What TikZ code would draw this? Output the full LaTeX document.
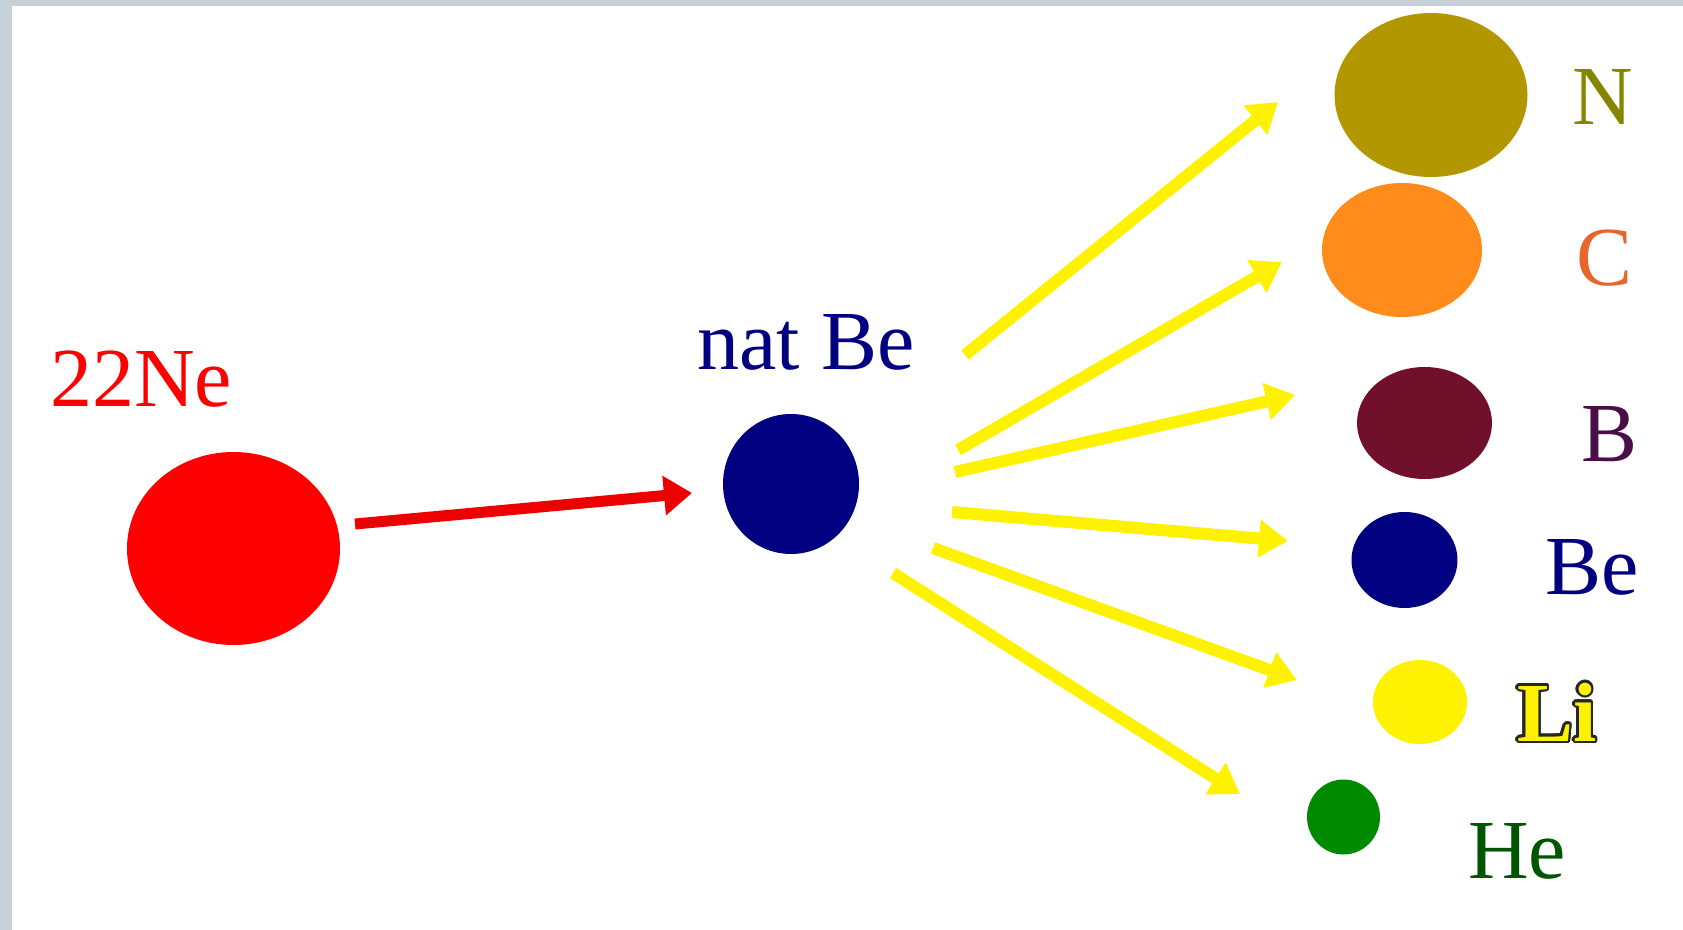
\documentclass[tikz,border=0pt]{standalone}
\usepackage{fontspec}
\setmainfont{Liberation Serif}
\usepackage{contour}
\usetikzlibrary{shapes.geometric,arrows.meta}

\definecolor{framegray}{HTML}{C5D0D7}
\definecolor{navyblue}{HTML}{000080}
\definecolor{nball}{HTML}{B39700}
\definecolor{ntext}{HTML}{858500}
\definecolor{cball}{HTML}{FF8C1A}
\definecolor{ctext}{HTML}{E8652C}
\definecolor{bball}{HTML}{70102A}
\definecolor{btext}{HTML}{4A0E48}
\definecolor{heball}{HTML}{008A00}
\definecolor{hetext}{HTML}{005500}

\tikzset{
  ball/.style={ellipse, inner sep=0pt, draw=none},
  lbl/.style={anchor=base, inner sep=0pt, font=\fontsize{42}{50}\selectfont},
  ray/.style={yellow, line width=6pt, -{Triangle[length=14.5pt,width=18pt]}},
}
\contourlength{1.3pt}

\begin{document}
\begin{tikzpicture}[x=0.5pt, y=-0.5pt]
  \useasboundingbox (0,0) rectangle (1683,930);
  % Frame
  \fill[framegray] (0,0) rectangle (1683,6);
  \fill[framegray] (0,0) rectangle (12,930);

  % Projectile and target
  \node[ball, fill=red, minimum width=106.5pt, minimum height=96.5pt] (ne) at (233.5,548.5) {};
  \node[ball, fill=navyblue, minimum width=68pt, minimum height=70pt] (natbe) at (791,484) {};
  \node[lbl, text=red] (nelbl) at (141,407) {22Ne};
  \node[lbl, text=navyblue] (natbelbl) at (806,370) {nat Be};

  % Fragments
  \node[ball, fill=nball, minimum width=96.5pt, minimum height=82pt] (fn) at (1431,95) {};
  \node[ball, fill=cball, minimum width=80pt, minimum height=67pt] (fc) at (1402,250) {};
  \node[ball, fill=bball, minimum width=67.5pt, minimum height=56pt] (fb) at (1424.5,423) {};
  \node[ball, fill=navyblue, minimum width=53pt, minimum height=48pt] (fbe) at (1404.5,560) {};
  \node[ball, fill=yellow, minimum width=47pt, minimum height=42pt] (fli) at (1420,702) {};
  \node[ball, fill=heball, minimum width=36.5pt, minimum height=37.5pt] (fhe) at (1343.5,817) {};

  % Fragment labels
  \node[lbl, text=ntext] (nlbl) at (1603,125) {N};
  \node[lbl, text=ctext] (clbl) at (1605,286) {C};
  \node[lbl, text=btext] (blbl) at (1610,462) {B};
  \node[lbl, text=navyblue] (belbl) at (1592,595) {Be};
  \node[lbl, font=\fontsize{42}{50}\selectfont\bfseries] (lilbl) at (1557,741) {\contour{black!85}{\textcolor{yellow}{Li}}};
  \node[lbl, text=hetext] (helbl) at (1517,878) {He};

  % Beam
  \coordinate (beamstart) at (355,524);
  \coordinate (beamtip) at (692,493);
  \draw[red!93!black, line width=5.5pt, -{Triangle[length=14pt,width=19pt]}] (beamstart) -- (beamtip);

  % Rays out of the target
  \coordinate (s1) at (965,355);  \coordinate (t1) at (1278,102);
  \coordinate (s2) at (958,450);  \coordinate (t2) at (1282,262);
  \coordinate (s3) at (955,472);  \coordinate (t3) at (1295,395);
  \coordinate (s4) at (952,512);  \coordinate (t4) at (1288,541);
  \coordinate (s5) at (933,548);  \coordinate (t5) at (1297,680);
  \coordinate (s6) at (893,573);  \coordinate (t6) at (1240,794);
  \foreach \i in {1,...,6}
    \draw[ray] (s\i) -- (t\i);
\end{tikzpicture}
\end{document}
